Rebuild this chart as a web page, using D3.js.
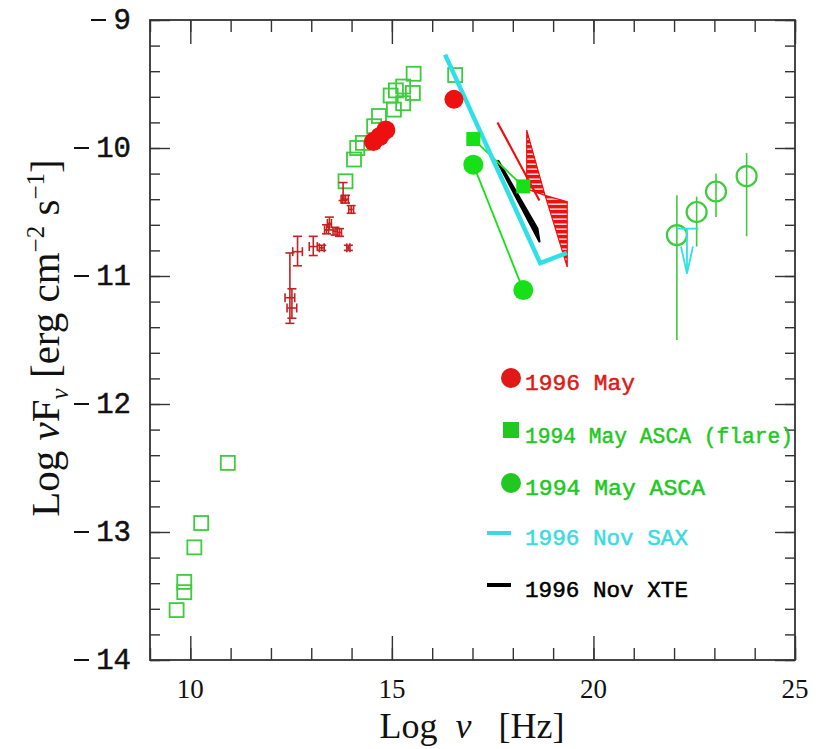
<!DOCTYPE html>
<html>
<head>
<meta charset="utf-8">
<script src="https://cdn.jsdelivr.net/npm/d3@7"></script>
<style>
  html, body { margin: 0; padding: 0; background: #fff; }
  svg { display: block; }
</style>
</head>
<body>
<svg id="chart" width="825" height="749"></svg>
<script>
// ---- tick values ----
const xMajorTicks = [10, 15, 20, 25];
const yMajorTicks = [-9, -10, -11, -12, -13, -14];

// ---- archival radio / optical / UV points (open green squares) ----
const archNu = [9.66, 9.85, 9.85, 10.10, 10.27, 10.93, 13.85, 14.06, 14.14, 14.28, 14.56, 14.68, 14.97, 15.05, 15.10, 15.28, 15.28, 15.52, 15.54, 16.57];
const archF  = [-13.61, -13.47, -13.39, -13.12, -12.93, -12.46, -10.26, -10.09, -10.00, -9.96, -9.83, -9.75, -9.59, -9.70, -9.55, -9.52, -9.65, -9.57, -9.42, -9.43];

// ---- infrared points with error bars (dark red) ----
const irNu  = [12.47, 12.52, 12.66, 13.05, 13.26, 13.38, 13.45, 13.59, 13.70, 13.79, 13.85, 13.92, 13.99];
const irF   = [-11.17, -11.25, -10.81, -10.77, -10.78, -10.64, -10.59, -10.65, -10.66, -10.40, -10.40, -10.78, -10.48];
const irLo  = [-11.37, -11.33, -10.92, -10.84, -10.80, -10.67, -10.64, -10.68, -10.69, -10.41, -10.43, -10.80, -10.51];
const irHi  = [-10.82, -11.10, -10.69, -10.69, -10.76, -10.60, -10.54, -10.62, -10.63, -10.27, -10.37, -10.76, -10.45];
const irDnu = [0.12, 0.12, 0.12, 0.10, 0.06, 0.05, 0.05, 0.05, 0.05, 0.05, 0.07, 0.04, 0.06];

// ---- 1996 May (filled red circles) ----
const may96Nu = [14.54, 14.70, 14.85, 16.54];
const may96F  = [-9.95, -9.91, -9.86, -9.62];

// ---- 1994 May ASCA flare (filled green squares) ----
const flareNu = [17.02, 18.26];
const flareF  = [-9.93, -10.30];

// ---- 1994 May ASCA (filled green circles) ----
const ascaNu = [17.02, 18.26];
const ascaF  = [-10.13, -11.11];

// ---- 1996 Nov SAX spectrum (cyan) ----
const saxNu = [16.32, 18.68, 19.34];
const saxF  = [-9.27, -10.90, -10.82];

// ---- 1996 Nov XTE bow-tie (black) ----
const xteNu = [17.64, 18.61, 18.66, 17.64];
const xteF  = [-10.10, -10.63, -10.73, -10.12];

// ---- 1996 May X-ray bow-tie (hatched red) and model line ----
const tieNu = [18.345, 18.80, 19.35, 19.35, 18.80, 18.345];
const tieF  = [-9.86, -10.37, -10.93, -10.42, -10.37, -10.32];
const modelNu = [17.62, 18.66];
const modelF  = [-9.80, -10.41];

// ---- gamma-ray points (open green circles) ----
const gamNu = [22.07, 22.56, 23.04, 23.80];
const gamF  = [-10.68, -10.50, -10.34, -10.22];
const gamLo = [-11.50, -10.77, -10.54, -10.69];
const gamHi = [-10.37, -10.38, -10.20, -10.04];

// ---- cyan upper limit ----
const ulNu = [22.32];
const ulF  = [-10.63];
const ulTip = [-10.98];

// ---- legend ----
const legendLabels = ["1996 May", "1994 May ASCA (flare)", "1994 May ASCA", "1996 Nov SAX", "1996 Nov XTE"];
const legendColors = ["#e01818", "#22c822", "#22c822", "#3adbe0", "#000000"];
const legendKinds  = ["circle", "square", "circle", "line", "line"];

// ---- colours ----
const RED = "#ee1010", DRED = "#c42222", GREEN = "#18e018", GREEN_OPEN = "#3ccc3c", CYAN = "#30e0e6";

const svg = d3.select("#chart");
const M = { left: 150, right: 795, top: 20, bottom: 660 };

const x = d3.scaleLinear().domain([9, 25]).range([M.left, M.right]);
const y = d3.scaleLinear().domain([-14, -9]).range([M.bottom, M.top]);

const zip = (a, b) => a.map((v, i) => [v, b[i]]);
const line = d3.line().x(d => x(d[0])).y(d => y(d[1]));

// hatch pattern for the red bow-tie
const defs = svg.append("defs");
const pat = defs.append("pattern").attr("id", "hatch").attr("patternUnits", "userSpaceOnUse")
  .attr("width", 8).attr("height", 5);
pat.append("rect").attr("width", 8).attr("height", 5).attr("fill", RED);
pat.append("rect").attr("y", 3.5).attr("width", 8).attr("height", 1.3).attr("fill", "#fff");

// ---- axes ----
const xMinor = d3.range(9, 25.01, 1);
const yMinor = d3.range(-14, -8.99, 0.2).map(v => +v.toFixed(2));

function styleAxis(g) {
  g.select(".domain").remove();
  g.selectAll("line").attr("stroke", "#333").attr("stroke-width", 1.4);
}
function ticks(axisFn, scale, vals, len, tx, ty) {
  svg.append("g").attr("transform", `translate(${tx},${ty})`)
    .call(axisFn(scale).tickValues(vals).tickSize(-len).tickFormat("")).call(styleAxis);
}
ticks(d3.axisBottom, x, xMinor, 12, 0, M.bottom);
ticks(d3.axisTop, x, xMinor, 12, 0, M.top);
ticks(d3.axisLeft, y, yMinor, 10, M.left, 0);
ticks(d3.axisRight, y, yMinor, 10, M.right, 0);
ticks(d3.axisBottom, x, xMajorTicks, 24, 0, M.bottom);
ticks(d3.axisTop, x, xMajorTicks, 24, 0, M.top);
ticks(d3.axisLeft, y, yMajorTicks, 20, M.left, 0);
ticks(d3.axisRight, y, yMajorTicks, 20, M.right, 0);

// frame
svg.append("rect").attr("x", M.left).attr("y", M.top)
  .attr("width", M.right - M.left).attr("height", M.bottom - M.top)
  .attr("fill", "none").attr("stroke", "#333").attr("stroke-width", 1.8);

// tick labels
svg.append("g").selectAll("text").data(xMajorTicks).join("text")
  .attr("x", d => x(d)).attr("y", 698)
  .attr("text-anchor", "middle")
  .attr("font-family", "Liberation Serif, serif").attr("font-size", 27)
  .attr("fill", "#111")
  .text(d => d);

const yLab = svg.append("g").selectAll("g").data(yMajorTicks).join("g")
  .attr("transform", d => `translate(0,${y(d)})`);
yLab.append("line").attr("x1", d => (Math.abs(d) >= 10 ? 74 : 91)).attr("x2", d => (Math.abs(d) >= 10 ? 89 : 106))
  .attr("y1", 0).attr("y2", 0).attr("stroke", "#111").attr("stroke-width", 2);
yLab.append("text").attr("x", 131).attr("y", 9)
  .attr("text-anchor", "end")
  .attr("font-family", "Liberation Mono, monospace").attr("font-size", 29)
  .attr("stroke", "#111").attr("stroke-width", 0.5)
  .attr("fill", "#111")
  .text(d => Math.abs(d));

// axis titles
const xt = svg.append("text").attr("x", 472).attr("y", 738)
  .attr("text-anchor", "middle")
  .attr("font-family", "Liberation Serif, serif").attr("font-size", 36).attr("fill", "#111")
  .attr("xml:space", "preserve");
xt.append("tspan").text("Log  ");
xt.append("tspan").attr("font-style", "italic").text("\u03BD");
xt.append("tspan").text("   [Hz]");

const yt = svg.append("text").attr("transform", "translate(59,338) rotate(-90)")
  .attr("text-anchor", "middle")
  .attr("font-family", "Liberation Serif, serif").attr("font-size", 41).attr("fill", "#111")
  .attr("xml:space", "preserve");
yt.append("tspan").text("Log ");
yt.append("tspan").attr("font-style", "italic").text("\u03BD");
yt.append("tspan").text("F");
yt.append("tspan").attr("font-style", "italic").attr("font-size", 25).attr("dy", 9).text("\u03BD");
yt.append("tspan").attr("dy", -9).text(" [erg cm");
yt.append("tspan").attr("font-size", 25).attr("dy", -15).text("\u22122");
yt.append("tspan").attr("dy", 15).text(" s");
yt.append("tspan").attr("font-size", 25).attr("dy", -15).text("\u22121");
yt.append("tspan").attr("dy", 15).text("]");

// ---- data layer ----
const plot = svg.append("g");

// archival open squares
const SQ = 14;
plot.append("g").selectAll("rect").data(zip(archNu, archF)).join("rect")
  .attr("x", d => x(d[0]) - SQ / 2).attr("y", d => y(d[1]) - SQ / 2)
  .attr("width", SQ).attr("height", SQ)
  .attr("fill", "none").attr("stroke", GREEN_OPEN).attr("stroke-width", 1.8);

// infrared error bars
const ir = irNu.map((v, i) => ({ nu: v, f: irF[i], lo: irLo[i], hi: irHi[i], dn: irDnu[i] }));
const irG = plot.append("g").attr("stroke", DRED).attr("stroke-width", 1.6).attr("fill", "none");
ir.forEach(d => {
  const cx = x(d.nu), cy = y(d.f), capW = 4.5;
  irG.append("line").attr("x1", cx).attr("x2", cx).attr("y1", y(d.lo)).attr("y2", y(d.hi));
  irG.append("line").attr("x1", cx - capW).attr("x2", cx + capW).attr("y1", y(d.lo)).attr("y2", y(d.lo));
  irG.append("line").attr("x1", cx - capW).attr("x2", cx + capW).attr("y1", y(d.hi)).attr("y2", y(d.hi));
  irG.append("line").attr("x1", x(d.nu - d.dn)).attr("x2", x(d.nu + d.dn)).attr("y1", cy).attr("y2", cy);
  irG.append("line").attr("x1", x(d.nu - d.dn)).attr("x2", x(d.nu - d.dn)).attr("y1", cy - 4.5).attr("y2", cy + 4.5);
  irG.append("line").attr("x1", x(d.nu + d.dn)).attr("x2", x(d.nu + d.dn)).attr("y1", cy - 4.5).attr("y2", cy + 4.5);
});

// gamma-ray points: error bars then open circles
plot.append("g").selectAll("line").data(gamNu.map((v, i) => [v, gamLo[i], gamHi[i]])).join("line")
  .attr("x1", d => x(d[0])).attr("x2", d => x(d[0]))
  .attr("y1", d => y(d[1])).attr("y2", d => y(d[2]))
  .attr("stroke", GREEN_OPEN).attr("stroke-width", 1.6);
plot.append("g").selectAll("circle").data(zip(gamNu, gamF)).join("circle")
  .attr("cx", d => x(d[0])).attr("cy", d => y(d[1])).attr("r", 10)
  .attr("fill", "none").attr("stroke", GREEN_OPEN).attr("stroke-width", 2.2);

// cyan upper limit arrow
const ulG = plot.append("g").attr("stroke", CYAN).attr("stroke-width", 1.8).attr("fill", "none");
ulNu.forEach((v, i) => {
  const cx = x(v), cy = y(ulF[i]), ty = y(ulTip[i]);
  ulG.append("line").attr("x1", x(v - 0.25)).attr("x2", x(v + 0.28)).attr("y1", cy).attr("y2", cy);
  ulG.append("line").attr("x1", cx).attr("x2", cx).attr("y1", cy).attr("y2", ty);
  ulG.append("path").attr("d", `M${cx - 6},${ty - 27}L${cx},${ty}L${cx + 6},${ty - 27}`);
});

// red hatched bow-tie and model line
plot.append("path").attr("d", line(zip(tieNu, tieF)) + "Z")
  .attr("fill", "url(#hatch)").attr("stroke", RED).attr("stroke-width", 1.2);
plot.append("path").attr("d", line(zip(modelNu, modelF)))
  .attr("stroke", RED).attr("stroke-width", 2.2).attr("fill", "none");

// XTE bow-tie
plot.append("path").attr("d", line(zip(xteNu, xteF)) + "Z")
  .attr("fill", "#000").attr("stroke", "#000").attr("stroke-width", 2.2).attr("stroke-linejoin", "round");

// ASCA spectra: connecting lines
plot.append("path").attr("d", line(zip(flareNu, flareF)))
  .attr("stroke", GREEN).attr("stroke-width", 1.8).attr("fill", "none");
plot.append("path").attr("d", line(zip(ascaNu, ascaF)))
  .attr("stroke", GREEN).attr("stroke-width", 1.8).attr("fill", "none");

// SAX spectrum
plot.append("path").attr("d", line(zip(saxNu, saxF)))
  .attr("stroke", CYAN).attr("stroke-width", 4.5).attr("fill", "none").attr("stroke-linejoin", "miter");

// ASCA markers
plot.append("g").selectAll("rect").data(zip(flareNu, flareF)).join("rect")
  .attr("x", d => x(d[0]) - 7).attr("y", d => y(d[1]) - 7)
  .attr("width", 14).attr("height", 14).attr("fill", GREEN);
plot.append("g").selectAll("circle").data(zip(ascaNu, ascaF)).join("circle")
  .attr("cx", d => x(d[0])).attr("cy", d => y(d[1])).attr("r", 10).attr("fill", GREEN);

// 1996 May filled circles
plot.append("g").selectAll("circle").data(zip(may96Nu, may96F)).join("circle")
  .attr("cx", d => x(d[0])).attr("cy", d => y(d[1])).attr("r", 9.5).attr("fill", RED);

// ---- legend ----
const legendY = [390, 443, 495, 545, 597];
const legendWidths = [110, 268, 180, 163, 163];
const lg = svg.append("g");
legendLabels.forEach((lab, i) => {
  const by = legendY[i], c = legendColors[i], k = legendKinds[i];
  if (k === "circle") {
    lg.append("circle").attr("cx", 511).attr("cy", by - 12).attr("r", 10).attr("fill", c);
  } else if (k === "square") {
    lg.append("rect").attr("x", 503).attr("y", by - 21).attr("width", 16).attr("height", 16).attr("fill", c);
  } else {
    lg.append("line").attr("x1", 487).attr("x2", 511).attr("y1", by - 12).attr("y2", by - 12)
      .attr("stroke", c).attr("stroke-width", 4);
  }
  lg.append("text").attr("x", 525).attr("y", by)
    .attr("font-family", "Liberation Mono, monospace").attr("font-size", 22)
    .attr("stroke", c).attr("stroke-width", 0.5)
    .attr("textLength", legendWidths[i]).attr("lengthAdjust", "spacingAndGlyphs")
    .attr("fill", c).text(lab);
});
</script>
</body>
</html>
